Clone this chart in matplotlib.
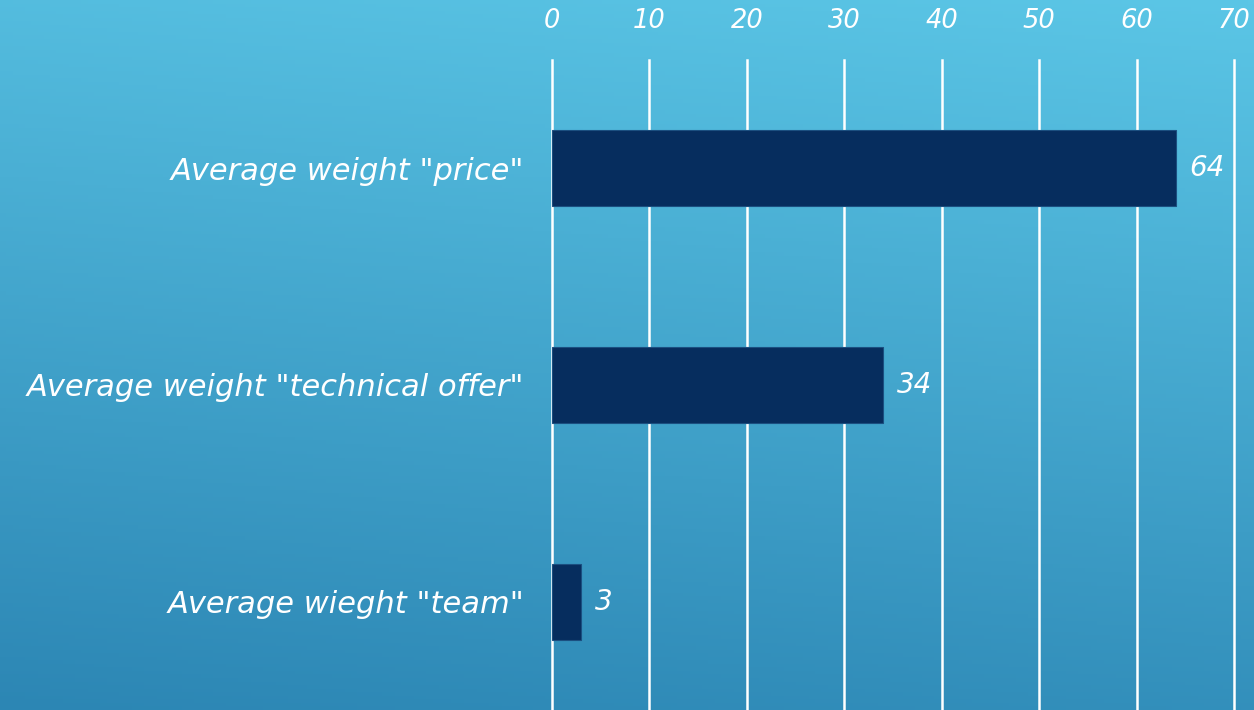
import numpy as np
import matplotlib.pyplot as plt

categories = ['Average weight "price"', 'Average weight "technical offer"', 'Average wieght "team"']
values = [64, 34, 3]
xticks = [0, 10, 20, 30, 40, 50, 60, 70]

plt.rcParams['font.family'] = ['DejaVu Sans']

fig = plt.figure(figsize=(12.54, 7.10), dpi=100)

# gradient backdrop, light cyan at top to deeper blue at bottom
bg = fig.add_axes([0, 0, 1, 1])
ny, nx = 200, 200
yy, xx = np.mgrid[0:1:ny * 1j, 0:1:nx * 1j]
t = 0.85 * yy + 0.15 * (1 - xx)
top = np.array([0x5B, 0xC6, 0xE6]) / 255
bot = np.array([0x2C, 0x86, 0xB4]) / 255
img = top[None, None, :] * (1 - t[..., None]) + bot[None, None, :] * t[..., None]
bg.imshow(img, aspect='auto', extent=[0, 1, 1, 0])
bg.axis('off')

ax = fig.add_axes([552 / 1254, 0, (1234 - 552) / 1254, 1 - 60 / 710])
ax.patch.set_alpha(0)

y = np.arange(len(categories))
ax.barh(y, values, height=0.35, color='#062D5E', edgecolor='#1B4F80', linewidth=0.8, zorder=3)
for yi, v in zip(y, values):
    ax.text(v + 1.4, yi, str(v), va='center', ha='left', color='white',
            fontsize=20, style='italic', zorder=4)

ax.set_xlim(0, 70)
ax.set_ylim(2.5, -0.5)
ax.set_xticks(xticks)
ax.xaxis.tick_top()
ax.set_yticks(y)
ax.set_yticklabels(categories)
ax.tick_params(axis='both', length=0, colors='white')
ax.tick_params(axis='x', pad=19, labelsize=18.5)
ax.tick_params(axis='y', pad=20, labelsize=22)
for lab in ax.get_xticklabels() + ax.get_yticklabels():
    lab.set_style('italic')
ax.grid(axis='x', color='white', linewidth=1.8, zorder=1)
ax.grid(axis='y', visible=False)
for line in ax.get_xgridlines():
    line.set_clip_on(False)
for s in ax.spines.values():
    s.set_visible(False)

fig.savefig('out.png', dpi=100)
